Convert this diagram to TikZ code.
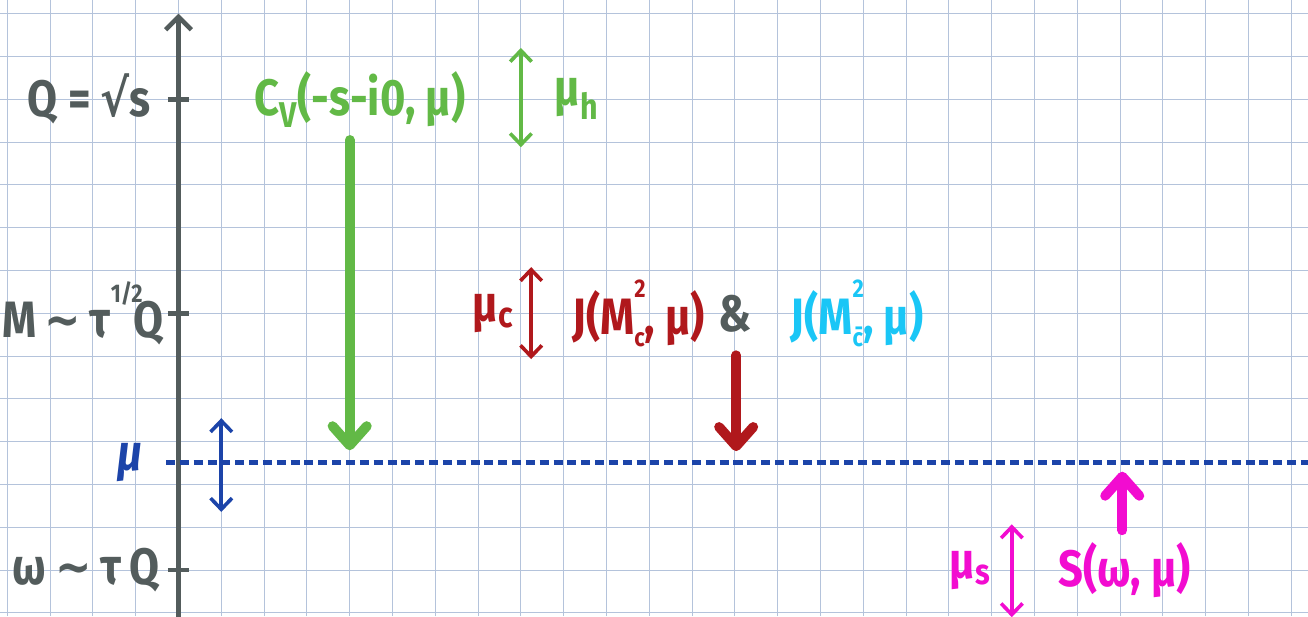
\documentclass[tikz,border=0pt]{standalone}
\usepackage{fontspec}
\setmainfont[FakeStretch=0.85]{Fira Sans}
\newfontfamily\symf[FakeStretch=0.85]{DejaVu Sans}
\usetikzlibrary{arrows.meta}
\definecolor{slate}{HTML}{535C5C}
\definecolor{gridc}{HTML}{B4C3DB}
\definecolor{leaf}{HTML}{62B946}
\definecolor{brick}{HTML}{B0181C}
\definecolor{sky}{HTML}{1AC6F6}
\definecolor{fuchsia}{HTML}{F20CD0}
\definecolor{navy}{HTML}{1C44A9}
\newcommand{\tld}{{\symf ∼}}
\newcommand{\rt}{{\symf √}}
\newcommand{\sml}[1]{\hbox{\fontsize{17}{17}\selectfont #1}}
\newcommand{\supsub}[2]{\rlap{\raisebox{1.35ex}{\sml{#1}}}\raisebox{-0.45ex}{\sml{#2}}}
\tikzset{
  gridln/.style={draw=gridc, line width=.6pt},
  axis/.style  ={draw=slate, line width=3pt, -{Straight Barb[length=3mm,width=6mm]}},
  tck/.style   ={draw=slate, line width=3pt},
  lbl/.style   ={font=\fontsize{34}{36}\selectfont\bfseries, inner sep=1pt},
  twin/.style  ={line width=2.4pt, {Straight Barb[length=2.6mm,width=5mm]}-{Straight Barb[length=2.6mm,width=5mm]}},
  fat/.style   ={line width=6.5pt, line cap=round, -{Straight Barb[round,length=4.5mm,width=8mm]}},
  scl/.style   ={draw=navy, line width=3pt, dash pattern=on 6pt off 3.2pt},
}

\begin{document}
\begin{tikzpicture}
    \def\yQ{11} \def\yM{6} \def\yW{0} \def\yMu{2.52}
    \useasboundingbox[fill=white] (-4.17,-1.075) rectangle (26.39,13.32);
    \clip (-4.17,-1.075) rectangle (26.39,13.32);
    \draw[gridln] (-4.17,-1.075) grid (26.39,13.32);

    % scale axis
    \coordinate (ax0) at (0,-1.2);
    \coordinate (ax1) at (0,13.0);
    \draw[axis] (ax0) -- (ax1);
    \foreach \y/\t in {\yQ/tq,\yM/tm,\yW/tw} {
      \coordinate (\t l) at (-0.25,\y);
      \coordinate (\t r) at (0.25,\y);
      \draw[tck] (\t l) -- (\t r);
    }
    \node[lbl,text=slate,anchor=east] (lq) at (-0.6,\yQ) {Q = \rt s};
    \node[lbl,text=slate,anchor=east] (lm) at (-0.3,\yM)
      {M\,\tld\,τ\rlap{\raisebox{1.3ex}{\sml{1/2}}}\kern.45em Q};
    \node[lbl,text=slate,anchor=east] (lw) at (-0.4,\yW) {ω\,\tld\,τ\,Q};

    % factorization scale
    \coordinate (mu0) at (-0.29,\yMu);
    \coordinate (mu1) at (26.5,\yMu);
    \draw[scl] (mu0) -- (mu1);
    \node[lbl,text=navy,font=\fontsize{34}{36}\selectfont\bfseries\itshape] (lmu) at (-1.13,\yMu) {μ};
    \coordinate (bu) at (1.0,3.55);
    \coordinate (bd) at (1.0,1.36);
    \draw[twin,navy] (bu) -- (bd);

    % hard function
    \node[lbl,text=leaf] (cv) at (4.24,\yQ) {C\textsubscript{V}(-s-i0, μ)};
    \node[lbl,text=leaf] (muh) at (9.3,\yQ) {μ\textsubscript{h}};
    \coordinate (hu) at (8,12.2);
    \coordinate (hd) at (8,9.88);
    \draw[twin,leaf] (hu) -- (hd);
    \coordinate (g0) at (4,10.05);
    \coordinate (g1) at (4,2.8);
    \draw[fat,leaf] (g0) -- (g1);

    % jet functions
    \node[lbl,text=brick] (muc) at (7.35,\yM) {μ\textsubscript{c}};
    \coordinate (cu) at (8.24,7.08);
    \coordinate (cd) at (8.24,4.93);
    \draw[twin,brick] (cu) -- (cd);
    \node[lbl,text=brick] (jc) at (10.75,\yM) {J(M\supsub{2}{c}, μ)};
    \node[lbl,text=slate] (amp) at (13.0,\yM) {\&};
    \node[lbl,text=sky] (jcb) at (15.85,\yM) {J(M\supsub{2}{\={c}}, μ)};
    \coordinate (r0) at (13.03,5.02);
    \coordinate (r1) at (13.03,2.78);
    \draw[fat,brick] (r0) -- (r1);

    % soft function
    \node[lbl,text=fuchsia] (mus) at (18.5,\yW) {μ\textsubscript{s}};
    \coordinate (su) at (19.47,1.07);
    \coordinate (sd) at (19.47,-1.1);
    \draw[twin,fuchsia] (su) -- (sd);
    \node[lbl,text=fuchsia] (sf) at (22.1,\yW) {S(ω, μ)};
    \coordinate (m0) at (22.05,0.93);
    \coordinate (m1) at (22.05,2.3);
    \draw[fat,fuchsia] (m0) -- (m1);
  \end{tikzpicture}
\end{document}
